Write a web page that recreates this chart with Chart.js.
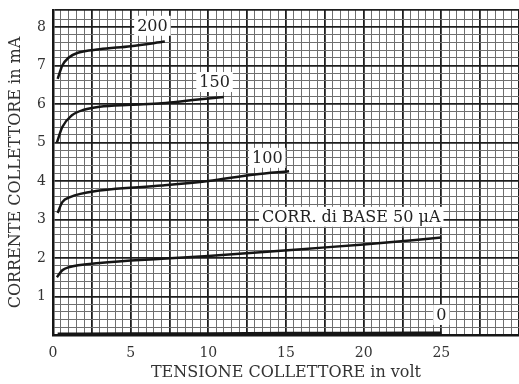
<!DOCTYPE html>
<html>
<head>
<meta charset="utf-8">
<script src="https://cdn.jsdelivr.net/npm/chart.js@4.4.1/dist/chart.umd.min.js"></script>
<style>
  html, body { margin: 0; padding: 0; background: #fff; }
  #wrap { width: 519px; height: 384px; }
</style>
</head>
<body>
<div id="wrap"><canvas id="chart" width="519" height="384"></canvas></div>
<script>
// curves of collector current (mA) vs collector voltage (V), one per base current
const v200 = [0.3, 0.6, 1.0, 1.6, 3, 5, 7.2];
const i200 = [6.65, 7.0, 7.2, 7.33, 7.42, 7.5, 7.62];

const v150 = [0.25, 0.6, 1.2, 2, 3, 5, 7, 9, 11];
const i150 = [5.0, 5.4, 5.7, 5.85, 5.93, 5.98, 6.02, 6.1, 6.18];

const v100 = [0.3, 0.6, 1.1, 3, 7, 10, 13, 15.2];
const i100 = [3.17, 3.45, 3.58, 3.75, 3.88, 4.0, 4.17, 4.25];

const v50 = [0.25, 0.6, 1.0, 3, 7, 10, 16, 20, 25];
const i50 = [1.5, 1.68, 1.76, 1.87, 1.98, 2.05, 2.23, 2.35, 2.53];

const v0 = [0.3, 5, 10, 15, 20, 25];
const i0 = [0.03, 0.04, 0.04, 0.05, 0.05, 0.06];

// curve labels (text, volt, mA)
const labelText = ['200', '150', '100', 'CORR. di BASE 50 \u03bcA', '0'];
const labelV = [6.4, 10.4, 13.8, 19.2, 25];
const labelI = [8.03, 6.57, 4.6, 3.07, 0.52];

const SERIF = '"DejaVu Serif", "Liberation Serif", serif';
const INK = '#151515';

function pts(xs, ys) {
  return xs.map((x, i) => ({ x: x, y: ys[i] }));
}

function curve(xs, ys) {
  return {
    data: pts(xs, ys),
    showLine: true,
    borderColor: INK,
    borderWidth: 2.5,
    pointRadius: 0,
    cubicInterpolationMode: 'monotone',
    fill: false
  };
}

const isInt = v => Math.abs(v - Math.round(v)) < 1e-6;
const isMajorX = v => Math.abs(v / 2.5 - Math.round(v / 2.5)) < 1e-6;

// white boxed labels next to the curves
const curveLabels = {
  id: 'curveLabels',
  afterDatasetsDraw(chart) {
    const { ctx, scales } = chart;
    ctx.save();
    ctx.font = '16px ' + SERIF;
    ctx.textAlign = 'center';
    ctx.textBaseline = 'middle';
    labelText.forEach((t, i) => {
      const x = scales.x.getPixelForValue(labelV[i]);
      const y = scales.y.getPixelForValue(labelI[i]);
      const w = ctx.measureText(t).width + 6;
      ctx.fillStyle = '#fff';
      ctx.fillRect(x - w / 2, y - 10, w, 20);
      ctx.fillStyle = '#222';
      ctx.fillText(t, x, y + 1);
    });
    ctx.restore();
  }
};

new Chart(document.getElementById('chart'), {
  type: 'scatter',
  data: {
    datasets: [
      curve(v200, i200),
      curve(v150, i150),
      curve(v100, i100),
      curve(v50, i50),
      curve(v0, i0)
    ]
  },
  options: {
    responsive: false,
    animation: false,
    layout: { padding: { top: 10, right: 0, left: 0, bottom: 0 } },
    plugins: {
      legend: { display: false },
      tooltip: { enabled: false }
    },
    scales: {
      x: {
        type: 'linear',
        min: 0,
        max: 30,
        afterFit(scale) {
          scale.height = 49;
          scale.paddingRight = 0;
        },
        border: { display: true, color: INK, width: 2.5 },
        grid: {
          drawTicks: false,
          color: ctx => (ctx.tick && isMajorX(ctx.tick.value)) ? '#1e1e1e' : '#6f6f6f',
          lineWidth: ctx => (ctx.tick && isMajorX(ctx.tick.value)) ? 1.8 : 1
        },
        ticks: {
          stepSize: 0.5,
          autoSkip: false,
          maxRotation: 0,
          padding: 10,
          color: '#333',
          font: { family: SERIF, size: 14 },
          callback: v => (v % 5 === 0 && v < 30) ? String(v) : ''
        },
        title: {
          display: true,
          text: 'TENSIONE COLLETTORE in volt',
          color: '#333',
          font: { family: SERIF, size: 16 },
          padding: { top: 0, bottom: 2 }
        }
      },
      y: {
        type: 'linear',
        min: 0,
        max: 8.44,
        afterFit(scale) {
          scale.width = 53;
          scale.paddingTop = 0;
          scale.paddingBottom = 0;
        },
        border: { display: true, color: INK, width: 2.5 },
        grid: {
          drawTicks: false,
          color: ctx => (ctx.tick && (isInt(ctx.tick.value) || ctx.tick.value >= 8.43)) ? '#1e1e1e' : '#6f6f6f',
          lineWidth: ctx => (ctx.tick && (isInt(ctx.tick.value) || ctx.tick.value >= 8.43)) ? 1.8 : 1
        },
        ticks: {
          stepSize: 0.2,
          autoSkip: false,
          padding: 7,
          color: '#333',
          font: { family: SERIF, size: 14 },
          callback: v => (isInt(v) && Math.round(v) > 0) ? String(Math.round(v)) : ''
        },
        title: {
          display: true,
          text: 'CORRENTE COLLETTORE in mA',
          color: '#333',
          font: { family: SERIF, size: 16 },
          padding: { top: 6, bottom: 0 }
        }
      }
    }
  },
  plugins: [curveLabels]
});
</script>
</body>
</html>
